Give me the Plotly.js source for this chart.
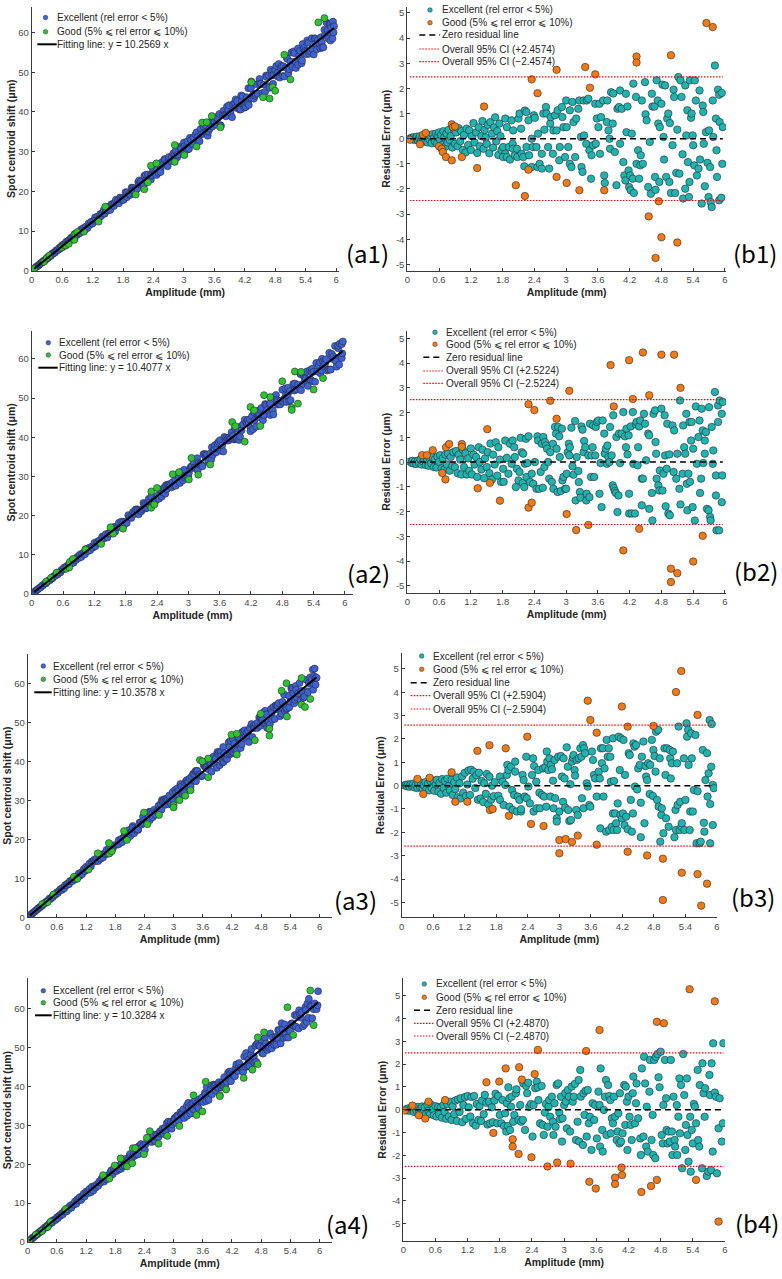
<!DOCTYPE html>
<html><head><meta charset="utf-8">
<script src="https://cdn.plot.ly/plotly-3.0.1.min.js"></script>
<style>html,body{margin:0;padding:0;background:#fff}#chart{width:782px;height:1279px}</style>
</head><body><div id="chart"></div>
<script>
// ---------------- DATA ----------------
// Each pair: [amplitude (mm), residual error (um)]
const slopes = [10.2569, 10.4077, 10.3578, 10.3284];
const ciValues = [2.4574, 2.5224, 2.5904, 2.4870];
const ciTexts = ['2.4574', '2.5224', '2.5904', '2.4870'];
const xTickVals = [0, 0.6, 1.2, 1.8, 2.4, 3, 3.6, 4.2, 4.8, 5.4, 6];
const xTickText = ['0', '0.6', '1.2', '1.8', '2.4', '3', '3.6', '4.2', '4.8', '5.4', '6'];
const shiftTickVals = [0, 10, 20, 30, 40, 50, 60];
const resTickVals = [-5, -4, -3, -2, -1, 0, 1, 2, 3, 4, 5];
const resTickText = ['-5', '-4', '-3', '-2', '-1', '0', '1', '2', '3', '4', '5'];
const labelsA = ['(a1)', '(a2)', '(a3)', '(a4)'];
const labelsB = ['(b1)', '(b2)', '(b3)', '(b4)'];
const nameExc = 'Excellent (rel error < 5%)';
const nameGood = 'Good (5% \u2A7D rel error \u2A7D 10%)';

const set1Excellent = [
[0.05,0.01],[0.08,0.04],[0.1,-0.02],[0.12,0.06],[0.14,-0.05],[0.16,0.03],[0.18,0.08],[0.2,-0.06],[0.22,0.02],[0.24,0.1],
[0.26,-0.1],[0.28,0.05],[0.3,-0.04],[0.32,0.12],[0.34,-0.12],[0.36,0.08],[0.38,-0.15],[0.4,0.15],[0.42,-0.03],[0.44,0.1],
[0.46,-0.18],[0.48,0.18],[0.5,0.02],[0.52,-0.1],[0.54,0.2],[0.56,-0.2],[0.58,0.12],[0.6,0.25],[0.62,-0.05],[0.64,0.15],
[0.66,-0.25],[0.68,0.3],[0.7,0.05],[0.72,-0.32],[0.74,0.2],[0.76,-0.15],[0.78,0.35],[0.8,-0.05],[0.82,0.1],[0.85,-0.35],
[0.88,0.38],[0.9,-0.2],[0.92,0.25],[0.95,-0.3],[0.97,0.42],[1.0,-0.1],[1.02,0.3],[1.05,-0.45],[1.07,0.15],[1.1,-0.55],
[1.12,0.4],[1.15,-0.25],[1.17,0.33],[1.2,-0.45],[1.22,0.1],[1.25,0.62],[1.27,-0.15],[1.3,0.25],[1.32,-0.57],[1.35,0.45],
[1.37,-0.3],[1.4,0.1],[1.42,0.7],[1.44,-0.4],[1.46,0.35],[1.48,0.05],[1.5,-0.2],[1.52,0.55],[1.55,-0.58],[1.57,0.66],
[1.6,0.2],[1.62,-0.35],[1.64,0.45],[1.66,0.85],[1.68,-0.1],[1.7,0.3],[1.72,-0.65],[1.74,0.6],[1.76,0.1],[1.78,-0.45],
[1.85,0.8],[1.88,0.46],[1.81,-0.33],[1.85,-0.6],[1.81,-0.73],[1.88,-0.73],[1.94,-0.83],[1.92,-0.33],[1.97,0.73],[2.0,0.33],
[1.99,-0.2],[2.0,-0.4],[2.03,-0.66],[2.07,-0.4],[2.1,0.8],[2.08,-0.73],[2.12,1.0],[2.15,0.4],[2.16,-0.6],[2.19,-0.73],
[2.21,-1.1],[2.22,1.12],[2.25,1.06],[2.25,-0.33],[2.29,0.73],[2.3,-0.66],[2.35,-1.13],[2.35,0.0],[2.37,-0.33],[2.39,0.93],
[2.41,0.83],[2.44,-0.33],[2.46,-1.13],[2.47,0.2],[2.5,-1.0],[2.54,-0.6],[2.54,-1.19],[2.57,1.0],[2.59,0.36],[2.62,1.26],
[2.63,1.0],[2.66,-0.33],[2.68,-1.19],[2.7,0.6],[2.71,0.86],[2.75,-0.6],[2.76,0.33],[2.79,0.93],[2.82,0.33],[2.84,1.13],
[2.87,-0.86],[2.88,-0.33],[2.92,1.26],[2.93,0.86],[2.95,0.46],[2.98,-0.73],[3.0,1.52],[3.01,0.46],[3.04,-0.33],[3.07,1.13],
[3.07,-1.0],[3.1,-1.13],[3.12,1.46],[3.14,0.66],[3.17,-0.73],[3.19,0.8],[3.23,1.19],[3.25,1.52],[3.28,0.07],[3.29,-1.13],
[3.31,-1.32],[3.33,1.52],[3.34,0.13],[3.38,-0.2],[3.39,1.52],[3.42,1.59],[3.44,-0.46],[3.47,-1.59],[3.48,-0.66],[3.51,-0.26],
[3.55,1.39],[3.56,-0.2],[3.58,0.8],[3.61,0.46],[3.63,1.39],[3.64,-0.6],[3.66,0.86],[3.7,1.52],[3.72,-1.46],[3.73,-1.76],
[3.77,0.66],[3.78,1.52],[3.8,0.33],[3.82,0.0],[3.83,-0.4],[3.85,1.85],[3.88,0.6],[3.89,1.8],[3.92,-0.53],[3.95,-1.85],
[3.97,1.19],[4.0,1.26],[4.02,1.92],[4.02,-0.2],[4.05,1.19],[4.08,-0.93],[4.1,-1.46],[4.12,-1.66],[4.13,1.79],[4.14,0.26],
[4.16,1.28],[4.18,-1.26],[4.19,-1.92],[4.21,-1.46],[4.22,-2.05],[4.24,0.2],[4.26,-1.59],[4.27,2.19],[4.28,-2.16],[4.32,1.66],
[4.33,-1.0],[4.36,-0.46],[4.38,-1.59],[4.4,-1.06],[4.41,-0.66],[4.43,1.52],[4.45,-1.0],[4.49,2.25],[4.5,0.97],[4.52,0.73],
[4.55,-1.92],[4.58,-0.13],[4.6,-2.19],[4.62,1.79],[4.63,1.28],[4.67,1.28],[4.68,-1.52],[4.69,-2.03],[4.71,2.32],[4.73,1.52],
[4.74,0.6],[4.76,-1.72],[4.77,0.46],[4.8,1.39],[4.82,2.15],[4.84,0.07],[4.85,-0.83],[4.87,2.12],[4.89,-1.52],[4.91,0.8],
[4.93,1.0],[4.95,-1.72],[4.96,0.62],[4.98,-2.16],[5.01,-0.26],[5.03,1.95],[5.04,1.66],[5.06,-2.16],[5.08,-1.36],[5.1,0.36],
[5.12,2.45],[5.14,-1.39],[5.16,2.32],[5.18,1.66],[5.2,-0.62],[5.21,-2.38],[5.25,2.12],[5.25,-1.99],[5.27,0.13],[5.29,1.13],
[5.3,-0.93],[5.32,-2.32],[5.33,-1.72],[5.34,2.32],[5.36,0.83],[5.37,1.0],[5.39,0.13],[5.4,-0.26],[5.42,-1.06],[5.43,2.32],
[5.45,1.52],[5.47,-1.46],[5.5,-1.19],[5.52,1.92],[5.53,-0.83],[5.56,-2.58],[5.58,1.32],[5.59,1.06],[5.6,-0.2],[5.62,-1.89],
[5.64,0.26],[5.67,-0.96],[5.69,-2.32],[5.7,0.33],[5.72,-1.13],[5.73,-2.52],[5.75,-2.72],[5.77,1.52],[5.78,0.07],[5.81,2.91],
[5.83,0.8],[5.84,-0.46],[5.85,-1.52],[5.87,1.95],[5.89,1.75],[5.89,-2.45],[5.9,0.66],[5.93,-2.35],[5.94,1.82],[5.95,-1.0],
[5.96,0.46]
];
const set1Good = [
[0.05,-0.04],[0.24,-0.22],[0.30,0.16],[0.35,0.23],[0.60,-0.3],[0.65,-0.4],[0.67,-0.53],[0.73,-0.73],[0.84,0.57],[0.86,0.46],
[0.90,0.49],[0.84,-0.86],[1.03,-0.73],[1.32,-1.17],[1.45,1.28],[2.05,-1.85],[2.22,-2.28],[2.29,-1.23],[2.35,2.36],[2.46,1.81],
[2.82,2.74],[2.82,-1.52],[3.01,-1.76],[3.25,-2.05],[3.36,2.85],[3.45,2.03],[3.55,2.56],[3.72,-2.05],[4.33,3.27],[4.33,3.03],
[4.56,-3.09],[4.69,-4.74],[4.75,-2.49],[4.80,-3.92],[4.98,3.32],[5.10,-4.13],[5.65,4.6],[5.77,4.44]
];

const set2Excellent = [
[0.05,0.02],[0.08,-0.03],[0.1,0.05],[0.12,-0.06],[0.15,0.03],[0.17,-0.08],[0.2,0.06],[0.22,-0.04],[0.25,0.1],[0.27,-0.1],
[0.3,0.02],[0.32,0.12],[0.35,-0.12],[0.37,0.05],[0.4,-0.15],[0.42,0.15],[0.45,-0.05],[0.47,0.2],[0.5,-0.2],[0.52,0.1],
[0.55,-0.22],[0.57,0.22],[0.6,0.0],[0.62,0.28],[0.65,-0.25],[0.67,0.15],[0.7,-0.3],[0.72,0.3],[0.75,-0.1],[0.77,0.35],
[0.8,-0.35],[0.82,0.2],[0.85,-0.15],[0.87,0.4],[0.9,-0.2],[0.92,0.45],[0.95,-0.45],[0.97,0.3],[1.0,0.1],[1.02,-0.5],
[1.05,0.5],[1.07,-0.2],[1.1,0.35],[1.12,-0.5],[1.15,0.15],[1.17,-0.35],[1.2,0.55],[1.22,-0.5],[1.25,0.3],[1.27,-0.1],
[1.3,0.2],[1.32,-0.6],[1.35,0.6],[1.37,0.0],[1.4,-0.3],[1.42,0.5],[1.45,-0.65],[1.47,0.15],[1.5,-0.2],[1.52,0.4],
[1.55,-0.45],[1.57,0.75],[1.6,-0.7],[1.62,0.3],[1.65,-0.1],[1.67,0.8],[1.7,-0.55],[1.72,0.6],[1.75,0.1],[1.77,-0.8],
[1.81,-0.27],[1.82,-0.8],[1.85,0.87],[1.88,0.17],[1.91,-0.47],[1.94,0.74],[1.97,-0.07],[1.99,0.87],[2.02,0.6],[2.03,0.2],
[2.05,-1.01],[2.07,-0.27],[2.1,-0.74],[2.12,-0.4],[2.14,0.98],[2.16,0.4],[2.18,-0.85],[2.19,0.34],[2.21,-1.01],[2.22,-0.07],
[2.24,0.94],[2.25,-0.6],[2.27,-0.04],[2.29,1.04],[2.32,-0.8],[2.35,-0.47],[2.38,-0.88],[2.41,0.0],[2.44,-1.08],[2.46,1.04],
[2.47,0.87],[2.49,-1.08],[2.52,-0.4],[2.54,0.74],[2.56,-1.04],[2.57,1.01],[2.59,-0.2],[2.6,0.81],[2.62,0.67],[2.64,0.54],
[2.66,0.0],[2.68,-0.67],[2.7,0.4],[2.73,-0.8],[2.75,0.74],[2.76,-1.08],[2.79,1.42],[2.81,1.15],[2.82,0.54],[2.84,-1.21],
[2.85,1.42],[2.87,1.04],[2.88,0.2],[2.9,-1.17],[2.92,1.35],[2.93,-0.74],[2.95,-0.6],[2.98,-1.08],[3.0,-1.08],[3.01,-0.47],
[3.03,0.4],[3.05,0.74],[3.06,0.27],[3.07,0.6],[3.1,1.39],[3.12,-0.17],[3.14,-0.51],[3.17,1.66],[3.18,-1.55],[3.2,0.2],
[3.23,-0.36],[3.24,-0.81],[3.26,-1.21],[3.27,-1.44],[3.29,1.44],[3.31,1.31],[3.33,0.4],[3.34,0.85],[3.36,0.6],[3.38,-1.55],
[3.39,-1.28],[3.42,0.27],[3.44,-1.42],[3.45,1.55],[3.47,-0.6],[3.48,0.27],[3.5,0.6],[3.51,1.48],[3.53,-0.6],[3.55,0.27],
[3.56,1.42],[3.58,1.62],[3.61,1.68],[3.63,-1.28],[3.65,-0.04],[3.67,-1.82],[3.69,1.68],[3.72,1.15],[3.73,0.34],[3.75,0.54],
[3.77,-0.07],[3.78,0.67],[3.8,0.2],[3.82,0.0],[3.83,1.42],[3.86,0.27],[3.88,-0.94],[3.89,1.89],[3.9,-1.05],[3.92,-1.17],
[3.94,-1.25],[3.95,1.01],[3.97,-2.02],[3.99,-1.35],[4.0,1.15],[4.02,-0.04],[4.05,1.15],[4.08,2.02],[4.11,1.04],[4.13,0.6],
[4.14,1.35],[4.16,0.31],[4.18,1.08],[4.19,-1.28],[4.19,-2.08],[4.22,1.44],[4.24,-2.08],[4.26,2.02],[4.27,-0.07],[4.3,-2.08],
[4.32,1.52],[4.33,1.62],[4.35,-0.13],[4.36,0.6],[4.38,1.44],[4.4,1.68],[4.43,-0.67],[4.43,-1.75],[4.45,-0.67],[4.47,1.95],
[4.49,1.55],[4.51,0.07],[4.55,1.15],[4.57,1.08],[4.57,-1.89],[4.62,-1.25],[4.63,-2.36],[4.65,1.95],[4.68,2.09],[4.69,0.81],
[4.7,0.34],[4.71,-0.67],[4.74,-0.94],[4.76,-1.15],[4.77,-0.34],[4.8,2.16],[4.82,-1.15],[4.84,-0.47],[4.86,1.89],[4.87,0.27],
[4.88,-1.79],[4.9,-0.27],[4.91,1.55],[4.93,-2.08],[4.95,0.31],[4.96,-2.15],[5.01,1.48],[5.03,-0.4],[5.04,1.28],[5.08,-0.67],
[5.1,0.34],[5.14,-1.08],[5.15,2.49],[5.16,-1.71],[5.2,-0.47],[5.21,1.48],[5.23,0.6],[5.25,0.34],[5.27,1.95],[5.28,-0.88],
[5.29,-1.95],[5.31,-0.47],[5.33,1.62],[5.34,-0.8],[5.36,0.87],[5.37,1.62],[5.39,-1.82],[5.4,0.54],[5.43,-2.36],[5.45,2.25],
[5.47,-0.07],[5.5,1.01],[5.52,1.68],[5.53,-1.25],[5.55,-0.67],[5.56,2.16],[5.58,1.28],[5.59,-0.04],[5.62,0.87],[5.62,0.34],
[5.64,1.21],[5.66,-1.89],[5.69,-1.95],[5.7,2.22],[5.72,-2.22],[5.73,-2.36],[5.75,1.42],[5.77,-0.07],[5.78,0.47],[5.81,2.83],
[5.83,-0.54],[5.83,-1.35],[5.84,-2.76],[5.87,1.62],[5.87,2.29],[5.89,-2.76],[5.9,2.49],[5.94,-1.62],[5.94,1.95],[5.95,-0.54],
[5.96,2.43]
];
const set2Good = [
[0.28,0.28],[0.37,0.28],[0.48,0.48],[0.66,-0.44],[0.72,-0.7],[0.73,0.6],[0.79,0.73],[1.03,0.73],[1.03,0.62],[1.33,-1.06],
[1.51,1.33],[1.56,-0.84],[1.75,-1.56],[2.29,2.34],[2.29,-1.84],[2.35,-1.64],[2.4,2.1],[2.7,2.48],[2.82,1.75],[3.01,-2.1],
[3.06,2.88],[3.19,-2.75],[3.42,-2.54],[3.84,3.92],[3.9,2.25],[4.08,-3.57],[4.19,4.12],[4.26,2.55],[4.45,4.43],[4.38,-2.7],
[4.57,2.7],[4.8,4.34],[4.98,-4.31],[4.98,-4.85],[5.04,4.34],[5.1,-4.49],[5.16,3.0],[5.4,-4.02],[5.58,-2.98]
];

const set3Excellent = [
[0.05,0.01],[0.08,0.04],[0.1,-0.03],[0.12,0.05],[0.15,-0.05],[0.17,0.06],[0.2,-0.02],[0.22,0.08],[0.25,-0.08],[0.27,0.04],
[0.3,-0.1],[0.32,0.1],[0.35,-0.06],[0.37,0.12],[0.4,-0.12],[0.42,0.02],[0.45,0.15],[0.47,-0.15],[0.5,0.08],[0.52,-0.2],
[0.55,0.18],[0.57,-0.1],[0.6,0.22],[0.62,-0.22],[0.65,0.05],[0.67,0.25],[0.7,-0.25],[0.72,0.12],[0.75,-0.35],[0.77,0.28],
[0.8,-0.1],[0.82,0.2],[0.85,-0.3],[0.87,0.3],[0.9,0.0],[0.92,-0.2],[0.95,0.25],[0.97,-0.4],[1.0,0.15],[1.02,-0.15],
[1.05,0.35],[1.07,-0.5],[1.1,0.1],[1.12,-0.55],[1.15,0.4],[1.17,-0.3],[1.2,0.55],[1.22,-0.45],[1.25,0.05],[1.27,0.65],
[1.3,-0.4],[1.32,0.68],[1.35,0.3],[1.37,0.6],[1.4,-0.1],[1.42,0.45],[1.45,-0.6],[1.47,0.55],[1.5,-0.55],[1.52,0.2],
[1.55,-0.7],[1.57,0.1],[1.6,-0.35],[1.62,0.5],[1.65,-0.8],[1.67,0.38],[1.7,-0.6],[1.72,0.0],[1.75,-0.45],[1.77,0.15],
[1.84,-0.43],[1.87,-0.61],[1.87,0.39],[1.92,0.17],[1.94,-0.83],[1.97,0.03],[2.0,0.46],[2.01,0.89],[2.03,0.67],[2.05,-0.9],
[2.08,0.81],[2.1,-0.19],[2.11,-1.04],[2.14,-0.4],[2.16,1.03],[2.16,0.6],[2.19,-1.11],[2.21,-0.47],[2.24,-0.61],[2.27,-1.11],
[2.27,-1.01],[2.3,0.46],[2.32,0.24],[2.34,-0.47],[2.37,1.24],[2.38,-0.54],[2.41,-0.04],[2.44,-0.76],[2.48,0.46],[2.5,1.17],
[2.51,-1.11],[2.52,0.84],[2.56,0.17],[2.57,-0.97],[2.6,0.67],[2.62,-0.3],[2.63,-0.97],[2.67,-0.4],[2.69,0.74],[2.71,-0.47],
[2.73,0.79],[2.75,-0.9],[2.76,1.46],[2.77,1.03],[2.79,0.67],[2.81,1.17],[2.83,-0.47],[2.84,0.89],[2.86,0.7],[2.88,0.21],
[2.89,-0.97],[2.91,1.1],[2.92,-0.54],[2.95,-1.4],[2.95,-1.54],[2.98,1.24],[3.0,-1.11],[3.03,1.27],[3.05,0.39],[3.07,-0.69],
[3.08,1.17],[3.1,0.31],[3.11,-0.94],[3.14,1.64],[3.16,0.81],[3.17,-1.04],[3.19,-1.51],[3.21,0.06],[3.22,-1.47],[3.24,1.03],
[3.26,1.2],[3.27,1.31],[3.29,0.67],[3.3,0.43],[3.32,-1.04],[3.33,1.1],[3.35,-1.26],[3.37,1.17],[3.4,1.6],[3.42,1.24],
[3.43,-0.54],[3.45,1.74],[3.46,-0.97],[3.47,1.6],[3.49,1.39],[3.52,0.1],[3.54,-0.04],[3.57,-0.83],[3.59,-0.9],[3.62,1.46],
[3.64,1.1],[3.66,0.46],[3.68,0.31],[3.71,-0.47],[3.75,0.6],[3.77,0.31],[3.78,-1.83],[3.79,1.6],[3.81,0.96],[3.83,1.6],
[3.84,-0.47],[3.86,0.74],[3.89,-1.97],[3.9,1.96],[3.92,1.24],[3.94,1.6],[3.95,-1.9],[3.97,1.24],[3.98,0.17],[4.0,-1.76],
[4.02,-1.19],[4.02,2.03],[4.03,-1.9],[4.04,0.2],[4.06,-1.19],[4.08,-1.61],[4.1,-1.9],[4.11,-0.76],[4.13,2.1],[4.15,0.67],
[4.16,-1.26],[4.17,2.03],[4.19,-1.4],[4.21,-1.19],[4.22,1.96],[4.24,-1.69],[4.25,0.46],[4.27,-1.33],[4.3,-1.87],[4.32,1.39],
[4.34,1.31],[4.36,-0.61],[4.38,-1.97],[4.4,-1.19],[4.41,1.81],[4.43,1.67],[4.44,-0.04],[4.46,1.74],[4.48,-0.16],[4.5,0.74],
[4.53,0.89],[4.55,-0.73],[4.55,-2.21],[4.57,1.24],[4.6,1.89],[4.62,-1.61],[4.64,0.84],[4.65,0.39],[4.67,0.24],[4.69,0.96],
[4.72,-0.36],[4.73,0.89],[4.76,1.96],[4.78,-0.44],[4.79,1.53],[4.81,1.27],[4.83,0.6],[4.84,2.31],[4.86,-0.61],[4.88,2.39],
[4.89,-0.9],[4.91,1.17],[4.92,-2.4],[4.94,-1.26],[4.95,-0.97],[4.98,-2.04],[5.0,1.6],[5.02,0.46],[5.03,-1.4],[5.05,1.6],
[5.08,-1.76],[5.1,1.53],[5.11,1.17],[5.12,0.31],[5.14,0.96],[5.16,1.46],[5.19,-2.21],[5.21,-1.04],[5.22,-1.9],[5.24,0.96],
[5.25,-0.83],[5.27,2.53],[5.29,-1.9],[5.3,-0.69],[5.32,-1.76],[5.33,-1.61],[5.37,1.17],[5.38,-1.9],[5.4,-0.61],[5.42,2.67],
[5.43,2.1],[5.45,2.39],[5.46,0.89],[5.48,-1.9],[5.49,-1.11],[5.51,2.24],[5.52,1.17],[5.54,-1.11],[5.56,-0.19],[5.59,2.17],
[5.61,-2.47],[5.63,-0.24],[5.67,-2.47],[5.69,-2.4],[5.73,1.53],[5.75,-1.59],[5.76,-1.97],[5.78,0.24],[5.81,1.39],[5.82,-0.47],
[5.84,0.53],[5.86,2.81],[5.87,-2.47],[5.87,-0.79],[5.89,0.81],[5.9,2.64],[5.92,0.03],[5.92,-1.69],[5.94,-0.11]
];
const set3Good = [
[0.3,0.29],[0.41,-0.36],[0.53,0.34],[0.95,0.57],[1.02,-0.69],[1.25,-0.69],[1.44,1.49],[1.67,1.73],[1.68,-1.04],[1.73,-1.0],
[1.98,1.6],[2.04,-1.29],[2.39,2.1],[2.46,-1.64],[2.7,-1.73],[3.0,-2.33],[3.0,-2.9],[3.12,-2.29],[3.24,-2.41],[3.35,-2.14],
[3.54,3.64],[3.59,2.81],[3.71,2.27],[3.71,-2.53],[4.19,3.39],[4.3,2.53],[4.3,-2.83],[4.67,-2.99],[4.79,2.56],[4.97,-3.13],
[4.97,-4.9],[5.22,4.01],[5.32,4.91],[5.33,-3.73],[5.63,3.03],[5.63,-3.79],[5.7,-5.14],[5.81,-4.2]
];

const set4Excellent = [
[0.05,0.02],[0.08,-0.03],[0.1,0.06],[0.12,-0.05],[0.15,0.08],[0.17,0.0],[0.2,-0.1],[0.22,0.1],[0.25,-0.06],[0.27,0.12],
[0.3,-0.12],[0.32,0.05],[0.35,0.14],[0.37,-0.15],[0.4,0.1],[0.42,-0.2],[0.45,0.2],[0.47,-0.05],[0.5,-0.2],[0.52,0.22],
[0.55,0.0],[0.57,-0.25],[0.6,0.15],[0.62,-0.3],[0.65,0.12],[0.67,-0.2],[0.7,0.1],[0.72,-0.35],[0.75,0.2],[0.77,-0.1],
[0.8,-0.4],[0.82,0.25],[0.85,-0.3],[0.87,0.35],[0.9,-0.45],[0.92,0.15],[0.95,-0.2],[0.97,0.4],[1.0,-0.5],[1.02,0.45],
[1.05,-0.1],[1.07,0.5],[1.1,-0.55],[1.12,0.2],[1.15,0.55],[1.17,-0.4],[1.2,0.6],[1.22,0.1],[1.25,-0.3],[1.27,0.55],
[1.3,-0.6],[1.32,0.6],[1.35,-0.7],[1.37,0.25],[1.4,-0.45],[1.42,0.15],[1.45,-0.5],[1.47,0.4],[1.5,-0.2],[1.52,0.65],
[1.55,0.3],[1.57,-0.65],[1.6,0.35],[1.62,-0.6],[1.65,0.1],[1.67,-0.55],[1.7,0.4],[1.72,0.7],[1.75,-0.6],[1.77,0.6],
[1.8,-0.23],[1.83,-0.6],[1.85,0.42],[1.88,-0.72],[1.9,-0.16],[1.92,-0.96],[1.93,0.28],[1.95,-0.72],[1.96,0.98],[1.98,0.5],
[1.99,-0.89],[2.01,0.13],[2.02,0.57],[2.05,-0.53],[2.07,-0.23],[2.1,0.72],[2.11,0.89],[2.15,-0.45],[2.18,0.2],[2.2,-0.53],
[2.23,-0.45],[2.24,1.15],[2.27,-0.89],[2.29,1.04],[2.31,0.72],[2.33,1.18],[2.35,0.13],[2.38,0.25],[2.41,-1.18],[2.43,0.2],
[2.46,0.94],[2.49,1.23],[2.51,0.98],[2.52,0.42],[2.55,-0.6],[2.58,1.04],[2.6,-0.67],[2.62,-1.11],[2.64,-0.13],[2.66,0.25],
[2.69,-0.75],[2.71,0.13],[2.72,0.42],[2.74,-0.31],[2.77,0.57],[2.79,-0.53],[2.8,-1.11],[2.82,0.28],[2.84,-0.75],[2.86,1.08],
[2.89,1.15],[2.91,-0.13],[2.92,-0.42],[2.94,0.57],[2.96,-1.4],[2.97,-0.38],[3.0,0.2],[3.02,0.72],[3.03,0.35],[3.05,-0.82],
[3.07,0.86],[3.09,0.57],[3.11,-0.96],[3.14,1.01],[3.16,0.35],[3.18,0.57],[3.2,1.13],[3.22,-1.33],[3.25,-0.53],[3.27,1.3],
[3.28,-1.4],[3.3,1.74],[3.31,0.57],[3.35,-1.55],[3.36,0.72],[3.38,-0.23],[3.4,0.83],[3.42,-1.18],[3.44,0.86],[3.46,-0.6],
[3.48,-0.31],[3.51,-1.77],[3.53,0.28],[3.56,-0.45],[3.58,0.2],[3.61,-1.26],[3.64,0.79],[3.66,0.2],[3.67,-1.62],[3.68,1.81],
[3.71,-0.89],[3.72,-1.84],[3.74,-0.01],[3.76,0.57],[3.78,1.3],[3.79,-1.11],[3.82,1.08],[3.84,0.6],[3.86,0.42],[3.87,-1.04],
[3.89,-0.38],[3.91,-0.6],[3.93,0.57],[3.95,-0.31],[3.98,-1.33],[4.0,-0.96],[4.01,-0.16],[4.03,-1.48],[4.04,0.72],[4.06,-1.4],
[4.09,-1.04],[4.12,1.08],[4.14,-0.67],[4.15,1.01],[4.17,0.35],[4.18,-1.77],[4.2,0.57],[4.22,-0.31],[4.24,-0.67],[4.26,-1.33],
[4.28,0.72],[4.29,1.45],[4.32,-0.6],[4.34,0.28],[4.35,1.15],[4.38,-0.38],[4.42,-1.26],[4.43,-1.99],[4.45,1.81],[4.48,-1.18],
[4.49,2.32],[4.51,1.15],[4.53,-1.62],[4.54,0.13],[4.56,-1.84],[4.59,0.79],[4.6,2.18],[4.63,-1.33],[4.65,-0.23],[4.66,-1.99],
[4.68,2.18],[4.7,-2.13],[4.71,2.32],[4.74,2.44],[4.76,1.42],[4.78,0.98],[4.8,2.54],[4.82,-1.11],[4.84,-1.48],[4.85,0.2],
[4.88,2.18],[4.9,0.5],[4.91,-0.89],[4.93,-1.48],[4.95,-0.96],[4.97,-1.4],[4.99,2.18],[5.01,-0.96],[5.02,-1.99],[5.04,0.57],
[5.06,-1.33],[5.07,-1.62],[5.1,0.2],[5.11,-1.99],[5.13,-0.31],[5.15,1.37],[5.16,-1.04],[5.18,1.08],[5.2,-2.57],[5.22,2.44],
[5.24,0.64],[5.26,-1.77],[5.27,-0.67],[5.29,1.37],[5.3,-1.11],[5.32,-2.28],[5.35,-0.31],[5.36,-2.72],[5.38,-0.89],[5.4,-1.48],
[5.42,0.25],[5.44,0.13],[5.46,-0.6],[5.49,1.74],[5.5,-1.33],[5.52,-1.62],[5.53,1.08],[5.57,-2.57],[5.58,2.03],[5.6,0.72],
[5.62,-0.31],[5.63,0.94],[5.66,-2.91],[5.69,-2.72],[5.71,1.52],[5.72,0.64],[5.74,-2.65],[5.75,2.03],[5.77,-1.84],[5.78,2.91],
[5.81,0.75],[5.83,0.57],[5.85,-2.79],[5.88,-0.82],[5.9,0.5],[5.94,-1.4],[5.96,-0.6],[5.97,2.91]
];
const set4Good = [
[0.03,-0.04],[0.17,0.18],[0.29,-0.25],[0.41,-0.39],[0.47,0.35],[0.78,0.42],[1.55,1.2],[1.68,-1.02],[1.79,1.23],[1.91,1.81],
[2.04,-1.3],[2.04,-1.62],[2.15,-1.94],[2.16,1.86],[2.21,1.32],[2.39,-2.09],[2.45,1.56],[2.51,2.62],[2.69,-2.49],[2.87,-2.32],
[3.12,-2.37],[3.41,2.57],[3.47,-3.16],[3.59,-3.46],[3.66,3.49],[3.95,-2.98],[3.95,-3.26],[4.07,-2.54],[4.08,-2.87],[4.44,-3.61],
[4.62,-3.35],[4.73,-3.08],[4.73,3.85],[4.86,3.79],[5.34,5.28],[5.46,-3.08],[5.81,4.75],[5.88,-4.91]
];

const excellentSets = [set1Excellent, set2Excellent, set3Excellent, set4Excellent];
const goodSets = [set1Good, set2Good, set3Good, set4Good];

// ---------------- LAYOUT GEOMETRY (pixels in the 782x1279 page) ----------------
const W = 782, H = 1279;
const fx = px => px / W;
const fy = py => 1 - py / H;

const geomA = [
  {x0: 31.7, x1: 338.6, xr: 6.05, yb: 270.7, yt: 6.7, yr: 66.5},
  {x0: 31.7, x1: 353.3, xr: 6.16, yb: 594, yt: 330.7, yr: 67.2},
  {x0: 27.7, x1: 331.7, xr: 6.25, yb: 917.3, yt: 654, yr: 67.5},
  {x0: 27.7, x1: 331.7, xr: 6.25, yb: 1242, yt: 978.3, yr: 67.9}
];
const geomB = [
  {x0: 407.3, x1: 726, xr: 6.02, yb: 270.7, yt: 6.7, ylo: -5.25, yhi: 5.25},
  {x0: 407.3, x1: 726, xr: 6.02, yb: 592.7, yt: 330.7, ylo: -5.28, yhi: 5.31},
  {x0: 401.7, x1: 717, xr: 6.0, yb: 917.3, yt: 653.3, ylo: -5.64, yhi: 5.67},
  {x0: 403.3, x1: 725, xr: 6.0, yb: 1241, yt: 978.3, ylo: -5.76, yhi: 5.76}
];
const legA = [
  {mx: 45.5, tx: 56, lx0: 37.3, lx1: 56.7, rows: [17.5, 31.7, 44.3]},
  {mx: 48.3, tx: 57.7, lx0: 38.3, lx1: 57.7, rows: [342.7, 355, 367.7]},
  {mx: 43.3, tx: 52, lx0: 34.3, lx1: 51.7, rows: [666, 679.3, 692.3]},
  {mx: 43.3, tx: 52, lx0: 35, lx1: 51.7, rows: [990.7, 1002.7, 1015.3]}
];
const legB = [
  {mx: 430, tx: 440.5, lx0: 419.3, lx1: 440, rows: [10, 22.7, 35, 49, 61.7]},
  {mx: 435, tx: 445.5, lx0: 423.3, lx1: 443.3, rows: [332.3, 344.3, 357.3, 371, 383.3]},
  {mx: 421.7, tx: 431.5, lx0: 410.7, lx1: 430.7, rows: [656, 669.3, 682.7, 695.7, 709]},
  {mx: 424.3, tx: 435.5, lx0: 414, lx1: 433.3, rows: [984, 997.3, 1010.3, 1023.3, 1036]}
];
const labPos = [
  {a: [367, 252.5], b: [755, 253]},
  {a: [368, 572], b: [756, 570]},
  {a: [355, 900], b: [753, 896]},
  {a: [347.5, 1223.5], b: [756.7, 1222.5]}
];

// ---------------- STYLE ----------------
const FONT = 'Liberation Sans, Arial, Helvetica, sans-serif';
const LABEL_FONT = 'Noto Sans CJK SC, Noto Sans, DejaVu Sans, sans-serif';
const colExcA = '#3d62d6', colGoodA = '#2fc42f';
const colExcB = '#20b4ae', colGoodB = '#f27a12';
const edge = '#2a2a3a';
const axisCol = '#3a3a3a';

const traces = [];
const layout = {
  width: W, height: H, margin: {l: 0, r: 0, t: 0, b: 0},
  paper_bgcolor: '#ffffff', plot_bgcolor: 'rgba(0,0,0,0)',
  showlegend: false, font: {family: FONT, size: 10, color: '#262626'},
  annotations: [], shapes: []
};

function axisCommon() {
  return {
    showline: true, linecolor: axisCol, linewidth: 1, mirror: false,
    ticks: 'inside', ticklen: 3, tickwidth: 1, tickcolor: axisCol,
    showgrid: false, zeroline: false,
    tickfont: {family: FONT, size: 9.5, color: '#4a4a4a'}, fixedrange: true
  };
}
function titleFont() { return {family: FONT, size: 10.5, color: '#262626', weight: 700}; }

function addLegendText(x, y, text) {
  layout.annotations.push({xref: 'paper', yref: 'paper', x: fx(x), y: fy(y), xanchor: 'left', yanchor: 'middle',
    text: text, showarrow: false, font: {family: FONT, size: 10, color: '#262626'}, borderpad: 0});
}
function addLegendDot(x, y, color) {
  const r = 2.3;
  layout.shapes.push({type: 'circle', xref: 'paper', yref: 'paper', x0: fx(x - r), x1: fx(x + r), y0: fy(y + r), y1: fy(y - r),
    fillcolor: color, line: {color: edge, width: 0.5}});
}
function addLegendLine(x0, x1, y, color, dash, width) {
  layout.shapes.push({type: 'line', xref: 'paper', yref: 'paper', x0: fx(x0), x1: fx(x1), y0: fy(y), y1: fy(y),
    line: {color: color, dash: dash, width: width}});
}

for (let i = 0; i < 4; i++) {
  const exc = excellentSets[i], good = goodSets[i], k = slopes[i];
  const allAmp = exc.concat(good).map(p => p[0]);
  const ampMin = Math.min(...allAmp), ampMax = Math.max(...allAmp);
  const na = 2 * i + 1, nb = 2 * i + 2;
  const xa = na === 1 ? 'x' : 'x' + na, ya = na === 1 ? 'y' : 'y' + na;
  const xb = 'x' + nb, yb = 'y' + nb;
  const ga = geomA[i], gb = geomB[i];

  // (a) spot centroid shift = fitted value + residual
  traces.push({type: 'scatter', mode: 'markers', name: nameExc, xaxis: xa, yaxis: ya,
    x: exc.map(p => p[0]), y: exc.map(p => k * p[0] + p[1]),
    marker: {size: 7, color: colExcA, line: {color: edge, width: 0.6}}});
  traces.push({type: 'scatter', mode: 'markers', name: nameGood, xaxis: xa, yaxis: ya,
    x: good.map(p => p[0]), y: good.map(p => k * p[0] + p[1]),
    marker: {size: 7, color: colGoodA, line: {color: edge, width: 0.6}}});
  traces.push({type: 'scatter', mode: 'lines', name: 'Fitting line: y = ' + slopes[i].toFixed(4) + ' x', xaxis: xa, yaxis: ya,
    x: [ampMin, ampMax], y: [k * ampMin, k * ampMax], line: {color: '#000', width: 2}});

  // (b) residuals
  traces.push({type: 'scatter', mode: 'markers', name: nameExc, xaxis: xb, yaxis: yb,
    x: exc.map(p => p[0]), y: exc.map(p => p[1]),
    marker: {size: 7.5, color: colExcB, line: {color: edge, width: 0.6}}});
  traces.push({type: 'scatter', mode: 'markers', name: nameGood, xaxis: xb, yaxis: yb,
    x: good.map(p => p[0]), y: good.map(p => p[1]),
    marker: {size: 7.5, color: colGoodB, line: {color: edge, width: 0.6}}});
  traces.push({type: 'scatter', mode: 'lines', name: 'Zero residual line', xaxis: xb, yaxis: yb,
    x: [ampMin, ampMax], y: [0, 0], line: {color: '#000', width: 1.5, dash: '6px,4px'}});
  traces.push({type: 'scatter', mode: 'lines', name: 'Overall 95% CI (+' + ciTexts[i] + ')', xaxis: xb, yaxis: yb,
    x: [ampMin, ampMax], y: [ciValues[i], ciValues[i]], line: {color: '#ff0000', width: 1.2, dash: '1.5px,1.5px'}});
  traces.push({type: 'scatter', mode: 'lines', name: 'Overall 95% CI (\u2212' + ciTexts[i] + ')', xaxis: xb, yaxis: yb,
    x: [ampMin, ampMax], y: [-ciValues[i], -ciValues[i]], line: {color: '#ff0000', width: 1.2, dash: '1.5px,1.5px'}});

  const keyXa = na === 1 ? 'xaxis' : 'xaxis' + na, keyYa = na === 1 ? 'yaxis' : 'yaxis' + na;
  layout[keyXa] = Object.assign(axisCommon(), {
    domain: [fx(ga.x0), fx(ga.x1)], range: [0, ga.xr], anchor: ya,
    tickvals: xTickVals, ticktext: xTickText,
    title: {text: 'Amplitude (mm)', font: titleFont(), standoff: 4}
  });
  layout[keyYa] = Object.assign(axisCommon(), {
    domain: [fy(ga.yb), fy(ga.yt)], range: [0, ga.yr], anchor: xa,
    tickvals: shiftTickVals,
    title: {text: 'Spot centroid shift (\u03BCm)', font: titleFont(), standoff: 0}
  });
  layout['xaxis' + nb] = Object.assign(axisCommon(), {
    domain: [fx(gb.x0), fx(gb.x1)], range: [0, gb.xr], anchor: yb,
    tickvals: xTickVals, ticktext: xTickText,
    title: {text: 'Amplitude (mm)', font: titleFont(), standoff: 4}
  });
  layout['yaxis' + nb] = Object.assign(axisCommon(), {
    domain: [fy(gb.yb), fy(gb.yt)], range: [gb.ylo, gb.yhi], anchor: xb,
    tickvals: resTickVals, ticktext: resTickText,
    title: {text: 'Residual Error (\u03BCm)', font: titleFont(), standoff: 3}
  });

  // compact legends (MATLAB style)
  const la = legA[i];
  addLegendDot(la.mx, la.rows[0], colExcA); addLegendText(la.tx, la.rows[0], nameExc);
  addLegendDot(la.mx, la.rows[1], colGoodA); addLegendText(la.tx, la.rows[1], nameGood);
  addLegendLine(la.lx0, la.lx1, la.rows[2], '#000', 'solid', 2);
  addLegendText(la.tx, la.rows[2], 'Fitting line: y = ' + slopes[i].toFixed(4) + ' x');

  const lb = legB[i];
  addLegendDot(lb.mx, lb.rows[0], colExcB); addLegendText(lb.tx, lb.rows[0], nameExc);
  addLegendDot(lb.mx, lb.rows[1], colGoodB); addLegendText(lb.tx, lb.rows[1], nameGood);
  addLegendLine(lb.lx0, lb.lx1, lb.rows[2], '#000', '6px,4px', 1.5);
  addLegendText(lb.tx, lb.rows[2], 'Zero residual line');
  addLegendLine(lb.lx0, lb.lx1, lb.rows[3], '#ff0000', '1.5px,1.5px', 1.2);
  addLegendText(lb.tx, lb.rows[3], 'Overall 95% CI (+' + ciTexts[i] + ')');
  addLegendLine(lb.lx0, lb.lx1, lb.rows[4], '#ff0000', '1.5px,1.5px', 1.2);
  addLegendText(lb.tx, lb.rows[4], 'Overall 95% CI (\u2212' + ciTexts[i] + ')');

  // panel labels
  layout.annotations.push({xref: 'paper', yref: 'paper', x: fx(labPos[i].a[0]), y: fy(labPos[i].a[1]),
    xanchor: 'center', yanchor: 'middle', text: labelsA[i], showarrow: false, borderpad: 0,
    font: {family: LABEL_FONT, size: 24, color: '#000'}});
  layout.annotations.push({xref: 'paper', yref: 'paper', x: fx(labPos[i].b[0]), y: fy(labPos[i].b[1]),
    xanchor: 'center', yanchor: 'middle', text: labelsB[i], showarrow: false, borderpad: 0,
    font: {family: LABEL_FONT, size: 24, color: '#000'}});
}

Plotly.newPlot('chart', traces, layout, {displayModeBar: false, staticPlot: true});
</script>
</body></html>
